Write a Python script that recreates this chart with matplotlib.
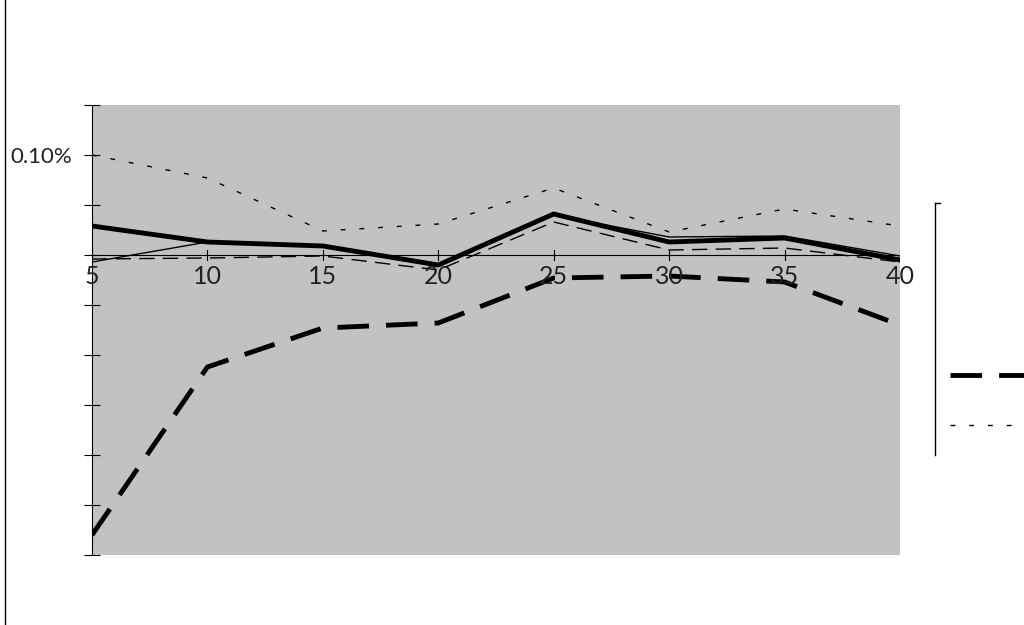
import matplotlib.pyplot as plt
from matplotlib.lines import Line2D
from matplotlib.ticker import FuncFormatter

# x categories and series (percent values)
x = [5, 10, 15, 20, 25, 30, 35, 40]
thick_solid = [0.029, 0.013, 0.009, -0.010, 0.041, 0.013, 0.017, -0.005]
thin_solid = [-0.007, 0.013, 0.008, -0.009, 0.040, 0.018, 0.019, -0.001]
thin_dash = [-0.004, -0.003, -0.001, -0.015, 0.033, 0.005, 0.007, -0.007]
dotted = [0.100, 0.077, 0.024, 0.031, 0.067, 0.023, 0.046, 0.029]
thick_dash = [-0.280, -0.112, -0.073, -0.068, -0.023, -0.021, -0.027, -0.070]

yticks = [-0.30, -0.25, -0.20, -0.15, -0.10, -0.05, 0.0, 0.05, 0.10, 0.15]

plt.rcParams['font.family'] = ['Lato', 'DejaVu Sans']

fig = plt.figure(figsize=(10.24, 6.25), dpi=100)
ax = fig.add_axes([92/1024, 1-555/625, 808/1024, 450/625])
ax.set_facecolor('#c2c2c2')

ax.plot(x, dotted, color='black', lw=1.0, dashes=(3.5, 10))
ax.plot(x, thin_dash, color='black', lw=1.0, dashes=(11, 6))
ax.plot(x, thin_solid, color='black', lw=1.0)
ax.plot(x, thick_solid, color='black', lw=3.5)
ax.plot(x, thick_dash, color='black', lw=3.5, dashes=(6.5, 3.5))

ax.set_xlim(5, 40)
ax.set_ylim(-0.30, 0.15)
ax.set_yticks(yticks)
ax.yaxis.set_major_formatter(FuncFormatter(lambda v, p: '0.10%' if abs(v-0.10) < 1e-9 else ''))
ax.tick_params(axis='y', direction='inout', length=12, width=0.8, labelsize=16, pad=8, labelcolor='#222222')

# x axis drawn at zero, labels just below it
ax.axhline(0, color='black', lw=0.8)
ax.set_xticks([])
for xv in x:
    ax.plot([xv, xv], [-0.005, 0.005], color='black', lw=0.8)
    ax.text(xv, -0.010, str(xv), ha='center', va='top', fontsize=18, color='#222222')

for s in ['top', 'right', 'bottom']:
    ax.spines[s].set_visible(False)
ax.spines['left'].set_linewidth(0.8)

# outer frame edge and clipped legend box
fig.add_artist(Line2D([5/1024, 5/1024], [0, 1], color='black', lw=1.0))
fig.add_artist(Line2D([935/1024, 935/1024], [1-203/625, 1-455/625], color='black', lw=1.0))
fig.add_artist(Line2D([935/1024, 940/1024], [1-203/625, 1-203/625], color='black', lw=1.0))
fig.add_artist(Line2D([950/1024, 1.0], [1-375/625, 1-375/625], color='black', lw=3.5, dashes=(6.5, 3.5)))
fig.add_artist(Line2D([950/1024, 1.0], [1-425/625, 1-425/625], color='black', lw=1.0, dashes=(3.5, 10)))

fig.savefig('out.png', dpi=100)
